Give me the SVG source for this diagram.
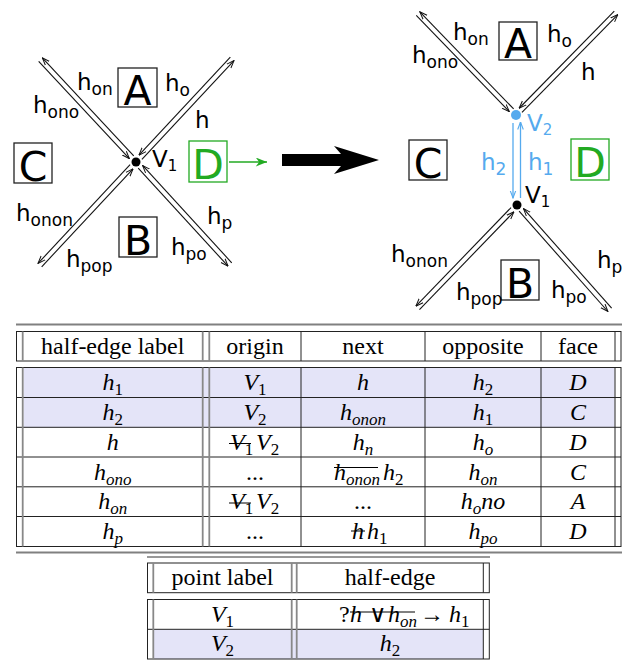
<svg xmlns="http://www.w3.org/2000/svg" width="626" height="660" viewBox="0 0 626 660">
<style>
.lb{font-family:"DejaVu Sans",sans-serif;font-size:23px;fill:#000}
.sb{font-size:17px}
.big{font-family:"DejaVu Sans",sans-serif;font-size:41px;text-anchor:middle}
.box{fill:#fff;stroke:#222;stroke-width:1.3}
.gbox{fill:#fff;stroke:#22aa22;stroke-width:1.3}
.he{fill:none;stroke:#111;stroke-width:1.1;marker-end:url(#oa)}
.bhe{fill:none;stroke:#55aaee;stroke-width:1.3;marker-end:url(#ob)}
.hd{font-family:"Liberation Serif",serif;font-size:24px;text-anchor:middle}
.rm{font-family:"Liberation Serif",serif;font-size:24px}
.m{font-family:"Liberation Serif",serif;font-size:24px;font-style:italic}
.c{text-anchor:middle}
.sd{font-size:17px;font-style:normal}
.si{font-size:17px}
.ol{fill:none;stroke:#222;stroke-width:1}
.gl{stroke:#888;stroke-width:1.8}
.bl{stroke:#222;stroke-width:1}
.rule{stroke:#808080;stroke-width:2}
.hl{fill:#e4e4f8}
.st{stroke:#000;stroke-width:1}
</style>
<defs>
<marker id="oa" viewBox="0 0 8 8" refX="7.5" refY="4" markerWidth="8" markerHeight="8" markerUnits="userSpaceOnUse" orient="auto"><path d="M0,1.2 L7.5,4 L0,6.8" fill="none" stroke="#111" stroke-width="1"/></marker>
<marker id="ob" viewBox="0 0 8 8" refX="7.5" refY="4" markerWidth="8" markerHeight="8" markerUnits="userSpaceOnUse" orient="auto"><path d="M0,1.2 L7.5,4 L0,6.8" fill="none" stroke="#55aaee" stroke-width="1.1"/></marker>
<marker id="ga" viewBox="0 0 10 8" refX="10" refY="4" markerWidth="12" markerHeight="9" markerUnits="userSpaceOnUse" orient="auto"><path d="M0,0 L10,4 L0,8 L3,4 Z" fill="#22aa22"/></marker>
</defs>

<g id="connectors">
  <g transform="translate(136,162) rotate(-133)"><path class="he" d="M6,2.5 H140"/><path class="he" d="M140,-2.5 H7"/></g>
  <g transform="translate(136,162) rotate(-47)"><path class="he" d="M6,2.5 H141"/><path class="he" d="M141,-2.5 H7"/></g>
  <g transform="translate(136,162) rotate(47.5)"><path class="he" d="M6,2.5 H139"/><path class="he" d="M139,-2.5 H7"/></g>
  <g transform="translate(136,162) rotate(133)"><path class="he" d="M6,2.5 H141"/><path class="he" d="M141,-2.5 H7"/></g>
  <g transform="translate(516,115) rotate(-134)"><path class="he" d="M6,2.5 H141"/><path class="he" d="M141,-2.5 H7"/></g>
  <g transform="translate(516,115) rotate(-45.6)"><path class="he" d="M6,2.5 H143"/><path class="he" d="M143,-2.5 H7"/></g>
  <g transform="translate(517,205) rotate(48.5)"><path class="he" d="M6,2.5 H140"/><path class="he" d="M140,-2.5 H7"/></g>
  <g transform="translate(517,205) rotate(134)"><path class="he" d="M6,2.5 H143"/><path class="he" d="M143,-2.5 H7"/></g>
  <path class="bhe" d="M513,123 V198"/>
  <path class="bhe" d="M520.5,198 V122"/>
  <path d="M229,162 H267" stroke="#22aa22" stroke-width="1.5" fill="none" marker-end="url(#ga)"/>
  <path d="M282,154 H341 L334,146 L379,160 L334,174 L341,166 H282 Z" fill="#000"/>
</g>

<g id="left-diagram">
  <g id="L-A"><rect class="box" x="118" y="68" width="39" height="39"/><text class="big" x="137.5" y="105">A</text></g>
  <g id="L-B"><rect class="box" x="119" y="217" width="38" height="40"/><text class="big" x="138" y="254.5">B</text></g>
  <g id="L-C"><rect class="box" x="14" y="143" width="38" height="40"/><text class="big" x="33" y="180.5">C</text></g>
  <g id="L-D"><rect class="gbox" x="189" y="141" width="38" height="41"/><text class="big" x="208" y="179" fill="#22aa22">D</text></g>
  <g id="L-V1"><circle cx="136" cy="162" r="4.5" fill="#000"/><text class="lb" x="152" y="167" font-size="20">V<tspan font-size="15" dy="4">1</tspan></text></g>
  <text class="lb" x="77" y="90">h<tspan class="sb" dy="5">on</tspan></text>
  <text class="lb" x="33" y="113">h<tspan class="sb" dy="5">ono</tspan></text>
  <text class="lb" x="165" y="91">h<tspan class="sb" dy="5">o</tspan></text>
  <text class="lb" x="195" y="128">h</text>
  <text class="lb" x="16" y="221">h<tspan class="sb" dy="5">onon</tspan></text>
  <text class="lb" x="66" y="267">h<tspan class="sb" dy="5">pop</tspan></text>
  <text class="lb" x="207" y="224">h<tspan class="sb" dy="5">p</tspan></text>
  <text class="lb" x="171" y="255">h<tspan class="sb" dy="5">po</tspan></text>
</g>

<g id="right-diagram">
  <g id="R-A"><rect class="box" x="499" y="22" width="38" height="38"/><text class="big" x="518" y="58">A</text></g>
  <g id="R-C"><rect class="box" x="409" y="140" width="38" height="40"/><text class="big" x="428" y="177.5">C</text></g>
  <g id="R-D"><rect class="gbox" x="571" y="139" width="38" height="41"/><text class="big" x="590" y="177" fill="#22aa22">D</text></g>
  <g id="R-B"><rect class="box" x="501" y="260" width="38" height="40"/><text class="big" x="520" y="297.5">B</text></g>
  <g id="R-V2"><circle cx="516" cy="115" r="5" fill="#55aaee"/><text class="lb" x="527" y="131" font-size="20" style="fill:#55aaee">V<tspan font-size="15" dy="4">2</tspan></text></g>
  <g id="R-V1"><circle cx="517" cy="205" r="4.5" fill="#000"/><text class="lb" x="525" y="203" font-size="20">V<tspan font-size="15" dy="4">1</tspan></text></g>
  <text class="lb" x="453" y="40">h<tspan class="sb" dy="5">on</tspan></text>
  <text class="lb" x="412" y="63">h<tspan class="sb" dy="5">ono</tspan></text>
  <text class="lb" x="547" y="42">h<tspan class="sb" dy="5">o</tspan></text>
  <text class="lb" x="581" y="80">h</text>
  <text class="lb" x="481" y="170" style="fill:#55aaee">h<tspan class="sb" dy="5">2</tspan></text>
  <text class="lb" x="528" y="170" style="fill:#55aaee">h<tspan class="sb" dy="5">1</tspan></text>
  <text class="lb" x="391" y="262">h<tspan class="sb" dy="5">onon</tspan></text>
  <text class="lb" x="456" y="300">h<tspan class="sb" dy="5">pop</tspan></text>
  <text class="lb" x="597" y="268">h<tspan class="sb" dy="5">p</tspan></text>
  <text class="lb" x="551" y="298">h<tspan class="sb" dy="5">po</tspan></text>
</g>

<g id="half-edge-table">
  <line class="rule" x1="16" y1="324.5" x2="622" y2="324.5"/>
  <rect class="ol" x="16.5" y="331.5" width="604.5" height="29.5"/>
  <line class="gl" x1="22.7" y1="331.5" x2="22.7" y2="361"/>
  <line class="gl" x1="202.7" y1="331.5" x2="202.7" y2="361"/>
  <line class="gl" x1="209.3" y1="331.5" x2="209.3" y2="361"/>
  <line class="bl" x1="301" y1="331.5" x2="301" y2="361"/>
  <line class="bl" x1="425" y1="331.5" x2="425" y2="361"/>
  <line class="bl" x1="541" y1="331.5" x2="541" y2="361"/>
  <line class="bl" x1="615" y1="331.5" x2="615" y2="361" stroke-width="1.3"/>
  <text class="hd" x="112.7" y="353.5">half-edge label</text>
  <text class="hd" x="255" y="353.5">origin</text>
  <text class="hd" x="363" y="353.5">next</text>
  <text class="hd" x="483" y="353.5">opposite</text>
  <text class="hd" x="578" y="353.5">face</text>

  <rect class="hl" x="23.5" y="368" width="591" height="59.3"/>
  <rect class="ol" x="16.5" y="367.5" width="604.5" height="179"/>
  <line class="bl" x1="16.5" y1="397.5" x2="621" y2="397.5"/>
  <line class="bl" x1="16.5" y1="427.3" x2="621" y2="427.3"/>
  <line class="bl" x1="16.5" y1="457" x2="621" y2="457"/>
  <line class="bl" x1="16.5" y1="486.8" x2="621" y2="486.8"/>
  <line class="bl" x1="16.5" y1="516.5" x2="621" y2="516.5"/>
  <line class="gl" x1="22.7" y1="367.5" x2="22.7" y2="546.5"/>
  <line class="gl" x1="202.7" y1="367.5" x2="202.7" y2="546.5"/>
  <line class="gl" x1="209.3" y1="367.5" x2="209.3" y2="546.5"/>
  <line class="bl" x1="301" y1="367.5" x2="301" y2="546.5"/>
  <line class="bl" x1="425" y1="367.5" x2="425" y2="546.5"/>
  <line class="bl" x1="541" y1="367.5" x2="541" y2="546.5"/>
  <line class="bl" x1="615" y1="367.5" x2="615" y2="546.5" stroke-width="1.3"/>
  <line class="rule" x1="16" y1="552.5" x2="622" y2="552.5"/>

  <text class="m c" x="112.7" y="390">h<tspan class="sd" dy="5">1</tspan></text>
  <text class="m c" x="255" y="390">V<tspan class="sd" dy="5">1</tspan></text>
  <text class="m c" x="363" y="390">h</text>
  <text class="m c" x="483" y="390">h<tspan class="sd" dy="5">2</tspan></text>
  <text class="m c" x="578" y="390">D</text>

  <text class="m c" x="112.7" y="420">h<tspan class="sd" dy="5">2</tspan></text>
  <text class="m c" x="255" y="420">V<tspan class="sd" dy="5">2</tspan></text>
  <text class="m c" x="363" y="420">h<tspan class="si" dy="5">onon</tspan></text>
  <text class="m c" x="483" y="420">h<tspan class="sd" dy="5">1</tspan></text>
  <text class="m c" x="578" y="420">C</text>

  <text class="m c" x="112.7" y="449.5">h</text>
  <text class="m" x="230" y="449.5">V<tspan class="sd" dy="5">1</tspan></text>
  <line class="st" x1="229" y1="443.5" x2="251" y2="443.5"/>
  <text class="m" x="256" y="449.5">V<tspan class="sd" dy="5">2</tspan></text>
  <text class="m c" x="363" y="449.5">h<tspan class="si" dy="5">n</tspan></text>
  <text class="m c" x="483" y="449.5">h<tspan class="si" dy="5">o</tspan></text>
  <text class="m c" x="578" y="449.5">D</text>

  <text class="m c" x="112.7" y="479.5">h<tspan class="si" dy="5">ono</tspan></text>
  <text class="hd" x="255" y="479.5">...</text>
  <text class="m" x="334" y="479.5">h<tspan class="si" dy="5">onon</tspan></text>
  <line class="st" x1="334" y1="467.5" x2="378" y2="467.5"/>
  <text class="m" x="383" y="479.5">h<tspan class="sd" dy="5">2</tspan></text>
  <text class="m c" x="483" y="479.5">h<tspan class="si" dy="5">on</tspan></text>
  <text class="m c" x="578" y="479.5">C</text>

  <text class="m c" x="112.7" y="509">h<tspan class="si" dy="5">on</tspan></text>
  <text class="m" x="230" y="509">V<tspan class="sd" dy="5">1</tspan></text>
  <line class="st" x1="229" y1="503" x2="251" y2="503"/>
  <text class="m" x="256" y="509">V<tspan class="sd" dy="5">2</tspan></text>
  <text class="hd" x="363" y="509">...</text>
  <text class="m c" x="483" y="509">h<tspan class="si" dy="5">o</tspan><tspan dy="-5">no</tspan></text>
  <text class="m c" x="578" y="509">A</text>

  <text class="m c" x="112.7" y="539">h<tspan class="si" dy="5">p</tspan></text>
  <text class="hd" x="255" y="539">...</text>
  <text class="m" x="352" y="539">h</text>
  <line class="st" x1="351" y1="531" x2="365" y2="531"/>
  <text class="m" x="367" y="539">h<tspan class="sd" dy="5">1</tspan></text>
  <text class="m c" x="483" y="539">h<tspan class="si" dy="5">po</tspan></text>
  <text class="m c" x="578" y="539">D</text>
</g>

<g id="point-table">
  <line x1="147" y1="557" x2="490" y2="557" stroke="#333" stroke-width="1"/>
  <rect class="ol" x="147.5" y="563" width="341.8" height="29.7"/>
  <line class="gl" x1="153.3" y1="563" x2="153.3" y2="592.7"/>
  <line class="gl" x1="291.7" y1="563" x2="291.7" y2="592.7"/>
  <line class="gl" x1="296.7" y1="563" x2="296.7" y2="592.7"/>
  <line class="bl" x1="483.3" y1="563" x2="483.3" y2="592.7" stroke-width="1.3"/>
  <text class="hd" x="222.5" y="585">point label</text>
  <text class="hd" x="390" y="585">half-edge</text>

  <rect class="hl" x="154" y="629.5" width="329" height="29.5"/>
  <rect class="ol" x="147.5" y="599.5" width="341.8" height="59.5"/>
  <line class="bl" x1="147.5" y1="629.3" x2="489.3" y2="629.3"/>
  <line class="gl" x1="153.3" y1="599.5" x2="153.3" y2="659"/>
  <line class="gl" x1="291.7" y1="599.5" x2="291.7" y2="659"/>
  <line class="gl" x1="296.7" y1="599.5" x2="296.7" y2="659"/>
  <line class="bl" x1="483.3" y1="599.5" x2="483.3" y2="659" stroke-width="1.3"/>

  <text class="m c" x="222.5" y="621.5">V<tspan class="sd" dy="5">1</tspan></text>
  <text class="rm" x="339" y="621.5">?</text>
  <text class="m" x="350" y="621.5">h</text>
  <text class="rm" x="369" y="621.5" font-size="20">∨</text>
  <text class="m" x="388" y="621.5">h<tspan class="si" dy="5">on</tspan></text>
  <line class="st" x1="350" y1="612" x2="415" y2="612"/>
  <text class="rm" x="420" y="621.5">→</text>
  <text class="m" x="449" y="621.5">h<tspan class="sd" dy="5">1</tspan></text>
  <text class="m c" x="222.5" y="651">V<tspan class="sd" dy="5">2</tspan></text>
  <text class="m c" x="390" y="651">h<tspan class="sd" dy="5">2</tspan></text>
</g>
</svg>
